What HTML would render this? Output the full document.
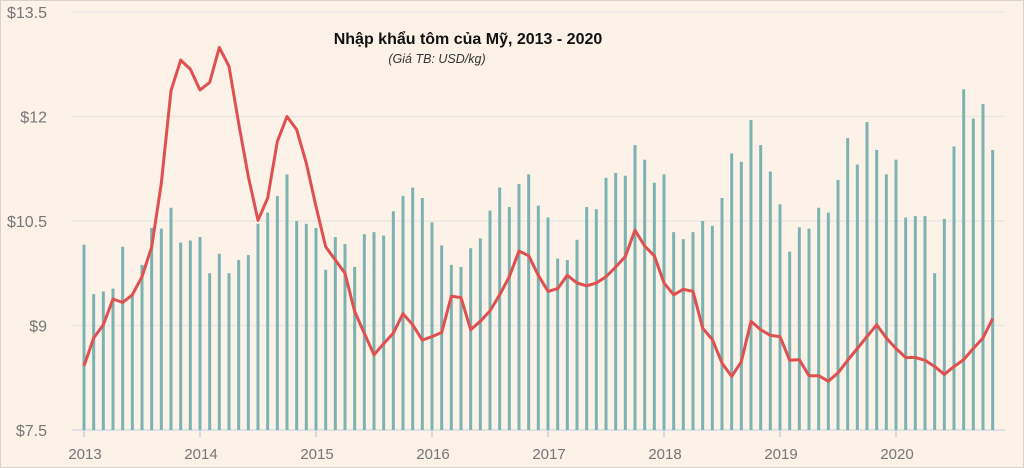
<!DOCTYPE html>
<html><head><meta charset="utf-8"><style>
html,body{margin:0;padding:0;background:#fcf2e8;}
svg{display:block;font-family:"Liberation Sans",sans-serif;}
</style></head><body>
<svg id="chart" width="1024" height="468" viewBox="0 0 1024 468">
<rect x="0.5" y="0.5" width="1023" height="467" fill="#fcf2e8" stroke="#d8d2c8"/>
<g id="grid"></g>
<g id="bars"></g>
<g id="line"></g>
<g id="axes"></g>
<text x="468" y="44" text-anchor="middle" font-size="16" font-weight="bold" fill="#111">Nhập khẩu tôm của Mỹ, 2013 - 2020</text>
<text x="437" y="63" text-anchor="middle" font-size="12.5" font-style="italic" fill="#333">(Giá TB: USD/kg)</text>
</svg>
<script>
const years = ["2013","2014","2015","2016","2017","2018","2019","2020"];
const yTicks = [7.5, 9, 10.5, 12, 13.5];
const yTickLabels = ["$7.5","$9","$10.5","$12","$13.5"];
const barValues = [
10.16,9.45,9.49,9.53,10.13,9.43,9.87,10.40,10.39,10.69,10.19,10.22,
10.27,9.75,10.03,9.75,9.94,10.01,10.46,10.62,10.86,11.17,10.50,10.46,
10.40,9.80,10.27,10.17,9.84,10.31,10.34,10.29,10.64,10.86,10.98,10.83,
10.48,10.15,9.87,9.84,10.11,10.25,10.65,10.98,10.70,11.03,11.17,10.72,
10.55,9.96,9.94,10.23,10.70,10.67,11.12,11.19,11.15,11.59,11.38,11.05,
11.17,10.34,10.24,10.34,10.50,10.43,10.83,11.47,11.35,11.95,11.59,11.21,
10.74,10.06,10.41,10.39,10.69,10.62,11.09,11.69,11.31,11.92,11.52,11.17,
11.38,10.55,10.57,10.57,9.75,10.53,11.57,12.39,11.97,12.18,11.52];
const priceValues = [
8.42,8.82,9.01,9.38,9.33,9.44,9.70,10.13,11.04,12.37,12.81,12.68,
12.38,12.49,12.99,12.72,11.90,11.14,10.51,10.83,11.64,12.00,11.81,11.33,
10.71,10.13,9.94,9.75,9.20,8.89,8.58,8.74,8.89,9.17,9.01,8.79,
8.84,8.90,9.42,9.40,8.94,9.06,9.21,9.44,9.70,10.07,10.00,9.72,
9.49,9.53,9.72,9.61,9.57,9.61,9.70,9.84,9.99,10.37,10.14,10.00,
9.61,9.44,9.52,9.49,8.96,8.80,8.46,8.27,8.48,9.06,8.94,8.86,
8.84,8.50,8.51,8.28,8.28,8.20,8.32,8.50,8.67,8.84,9.01,8.82,
8.67,8.54,8.54,8.50,8.41,8.30,8.41,8.51,8.67,8.82,9.10];

const NS="http://www.w3.org/2000/svg";
const x0=84, step=(896-84)/84;
function xScale(i){return x0+i*step;}
function yScale(v){return 430-(v-7.5)*(104.5/1.5);}
function mk(tag,attrs,parent){const e=document.createElementNS(NS,tag);for(const k in attrs)e.setAttribute(k,attrs[k]);parent.appendChild(e);return e;}

const grid=document.getElementById('grid');
yTicks.forEach((t,i)=>{
  const l=mk('line',{x1:72,x2:1005,y1:yScale(t),y2:yScale(t),stroke:i===0?'#d3d9e4':'#e9e6e4','stroke-width':i===0?1.5:1.5},grid);
  
  
  const tx=mk('text',{x:47,y:yScale(t)+6,'text-anchor':'end','font-size':16,fill:'#777'},grid);
  tx.textContent=yTickLabels[i];
  
  
});

const bars=document.getElementById('bars');
barValues.forEach((v,i)=>{
  const r=mk('rect',{x:xScale(i)-1.5,y:yScale(v),width:3,height:yScale(7.5)-yScale(v),fill:'#7db2b2'},bars);
  
  
});

const lineG=document.getElementById('line');
const pts=priceValues.map((v,i)=>xScale(i).toFixed(1)+','+yScale(v).toFixed(1)).join(' ');
const pl=mk('polyline',{points:pts,fill:'none',stroke:'#df5050','stroke-width':3,'stroke-linejoin':'round'},lineG);



const axes=document.getElementById('axes');
years.forEach((y,i)=>{
  const xx=xScale(i*12);
  const tk=mk('line',{x1:xx,x2:xx,y1:430,y2:437,stroke:'#c8d0de','stroke-width':1.5},axes);
  
  
  const tx=mk('text',{x:xx+1,y:459,'text-anchor':'middle','font-size':15,fill:'#777'},axes);
  tx.textContent=y;
  
  
});
</script>
</body></html>
